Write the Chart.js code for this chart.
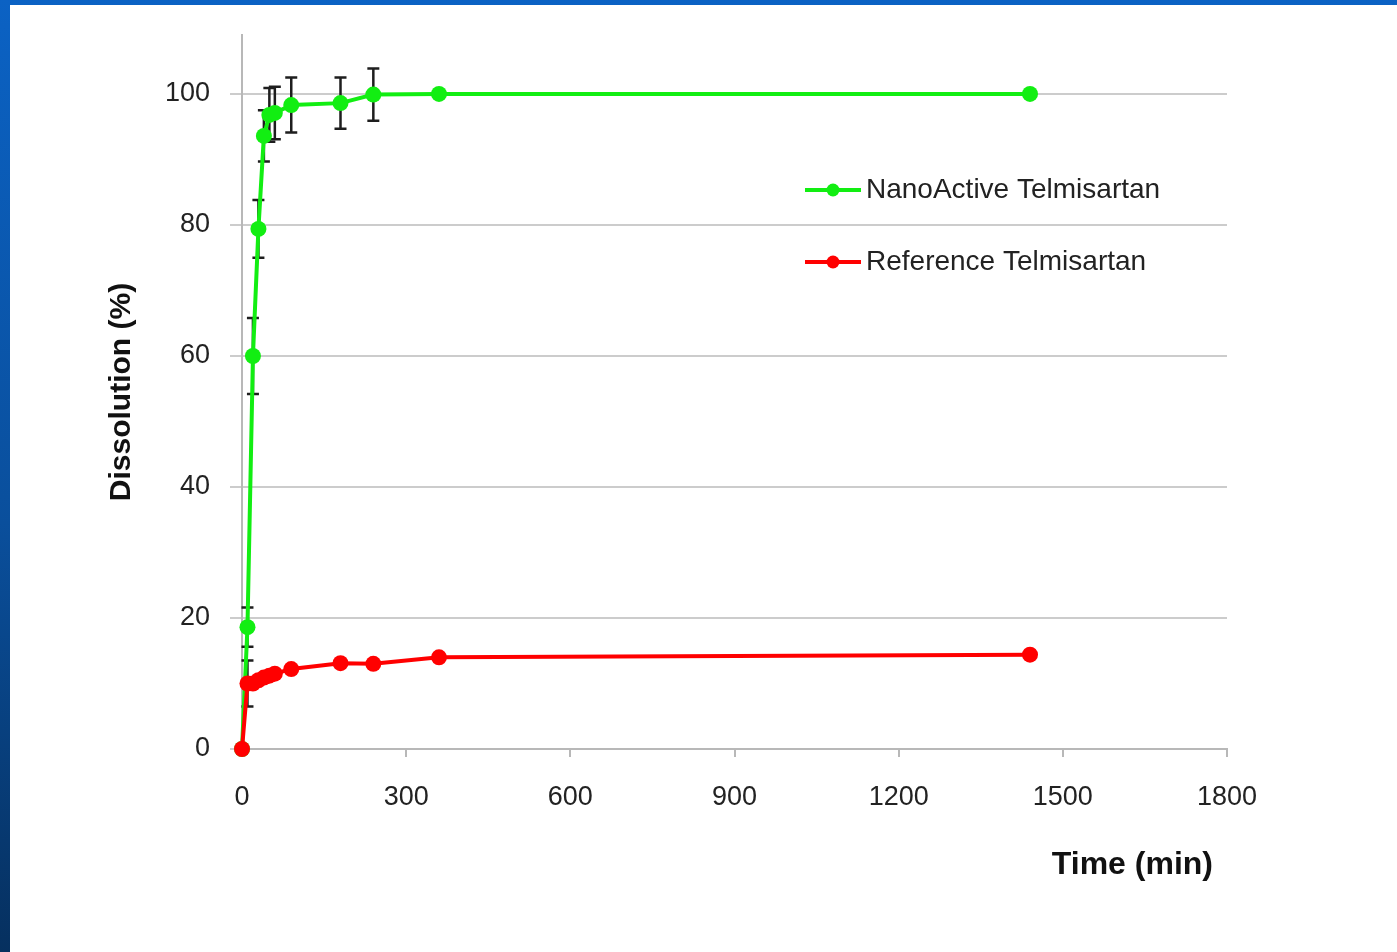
<!DOCTYPE html>
<html>
<head>
<meta charset="utf-8">
<script src="https://cdn.jsdelivr.net/npm/chart.js@4.4.1/dist/chart.umd.min.js"></script>
<style>
  html, body { margin: 0; padding: 0; }
  body {
    width: 1397px; height: 952px; overflow: hidden; position: relative;
    background: linear-gradient(180deg, #0b62c4 0%, #0a4f9c 55%, #06305f 100%);
  }
  #panel { position: absolute; left: 10px; top: 5px; width: 1387px; height: 947px; background: #fff; }
</style>
</head>
<body>
<div id="panel"><canvas id="dissolutionChart" width="1387" height="947"></canvas></div>
<script>
// sampling times (min)
const timePoints = [0, 10, 20, 30, 40, 50, 60, 90, 180, 240, 360, 1440];
// dissolution (%)
const nanoActive = [0, 18.6, 60, 79.4, 93.6, 96.8, 97.1, 98.3, 98.6, 99.9, 100, 100];
const nanoActiveErr = [0, 3, 5.8, 4.4, 3.9, 4.1, 4, 4.2, 3.9, 4, 0, 0];
const reference = [0, 10, 10, 10.5, 10.9, 11.2, 11.5, 12.2, 13.1, 13, 14, 14.4];
const referenceErr = [0, 3.5, 0, 0, 0, 0, 0, 0, 0, 0, 0, 0];
const xTicks = [0, 300, 600, 900, 1200, 1500, 1800];
const yTicks = [0, 20, 40, 60, 80, 100];
const xTitle = 'Time (min)';

const FONT = "'Liberation Sans', Arial, sans-serif";
const GREEN = '#12ee12';
const RED = '#ff0000';

const toPoints = (vals) => timePoints.map((t, i) => ({ x: t, y: vals[i] }));

const errorBars = {
    id: 'errorBars',
    beforeDatasetsDraw(chart) {
        const { ctx, scales: { x, y } } = chart;
        ctx.save();
        ctx.strokeStyle = '#1e1e1e';
        ctx.lineWidth = 2.5;
        chart.data.datasets.forEach(ds => {
            ds.errors.forEach((e, i) => {
                if (!e) return;
                const p = ds.data[i];
                const px = x.getPixelForValue(p.x);
                const top = y.getPixelForValue(p.y + e);
                const bot = y.getPixelForValue(p.y - e);
                ctx.beginPath();
                ctx.moveTo(px, top); ctx.lineTo(px, bot);
                ctx.moveTo(px - 6, top); ctx.lineTo(px + 6, top);
                ctx.moveTo(px - 6, bot); ctx.lineTo(px + 6, bot);
                ctx.stroke();
            });
        });
        ctx.restore();
    }
};

// legend inside the plot area, and the x title a bit in from the axis end
const insideLegend = {
    id: 'insideLegend',
    afterDraw(chart) {
        const ctx = chart.ctx;
        const rows = [chart.data.datasets[1], chart.data.datasets[0]];
        ctx.save();
        rows.forEach((ds, i) => {
            const yPos = 185 + i * 72;
            ctx.strokeStyle = ds.borderColor;
            ctx.fillStyle = ds.borderColor;
            ctx.lineWidth = 4;
            ctx.beginPath();
            ctx.moveTo(795, yPos); ctx.lineTo(851, yPos);
            ctx.stroke();
            ctx.beginPath();
            ctx.arc(823, yPos, 6.5, 0, Math.PI * 2);
            ctx.fill();
            ctx.fillStyle = '#222';
            ctx.font = '28px ' + FONT;
            ctx.textBaseline = 'middle';
            ctx.textAlign = 'left';
            ctx.fillText(ds.label, 856, yPos);
        });
        ctx.fillStyle = '#111';
        ctx.font = 'bold 32px ' + FONT;
        ctx.textAlign = 'right';
        ctx.textBaseline = 'middle';
        ctx.fillText(xTitle, chart.chartArea.right - 14, 860);
        ctx.restore();
    }
};

const ctx = document.getElementById('dissolutionChart').getContext('2d');
const chart = new Chart(ctx, {
    type: 'line',
    data: {
        datasets: [{
            label: 'Reference Telmisartan',
            data: toPoints(reference),
            errors: referenceErr,
            borderColor: RED,
            backgroundColor: RED,
            clip: false,
            order: 0
        }, {
            label: 'NanoActive Telmisartan',
            data: toPoints(nanoActive),
            errors: nanoActiveErr,
            borderColor: GREEN,
            backgroundColor: GREEN,
            clip: false,
            order: 1
        }]
    },
    options: {
        responsive: false,
        animation: false,
        layout: { padding: { left: 0, top: 30, right: 170, bottom: 53 } },
        elements: {
            line: { borderWidth: 4, tension: 0 },
            point: { radius: 8, hoverRadius: 8, borderWidth: 0 }
        },
        plugins: {
            legend: { display: false },
            tooltip: { enabled: false }
        },
        scales: {
            x: {
                type: 'linear',
                min: 0,
                max: 1800,
                afterFit: s => { s.height = 150; s.paddingLeft = 0; s.paddingRight = 0; },
                afterBuildTicks: axis => { axis.ticks = xTicks.map(v => ({ value: v })); },
                ticks: { color: '#222', padding: 24, font: { family: FONT, size: 27 }, callback: v => String(v) },
                grid: { drawOnChartArea: false, tickLength: 8, color: '#b8b8b8', lineWidth: 2 },
                border: { color: '#b8b8b8', width: 2 }
            },
            y: {
                min: 0,
                max: 109,
                afterFit: s => { s.width = 232; s.paddingTop = 0; s.paddingBottom = 0; },
                afterBuildTicks: axis => { axis.ticks = yTicks.map(v => ({ value: v })); },
                ticks: { color: '#222', padding: 20, font: { family: FONT, size: 27 }, callback: v => String(v) },
                grid: { color: '#cccccc', lineWidth: 2, tickLength: 12 },
                border: { color: '#b8b8b8', width: 2 },
                title: {
                    display: true,
                    text: 'Dissolution (%)',
                    color: '#111',
                    padding: { top: 94, bottom: 0 },
                    font: { family: FONT, size: 30, weight: 'bold' }
                }
            }
        }
    },
    plugins: [errorBars, insideLegend]
});
</script>
</body>
</html>
